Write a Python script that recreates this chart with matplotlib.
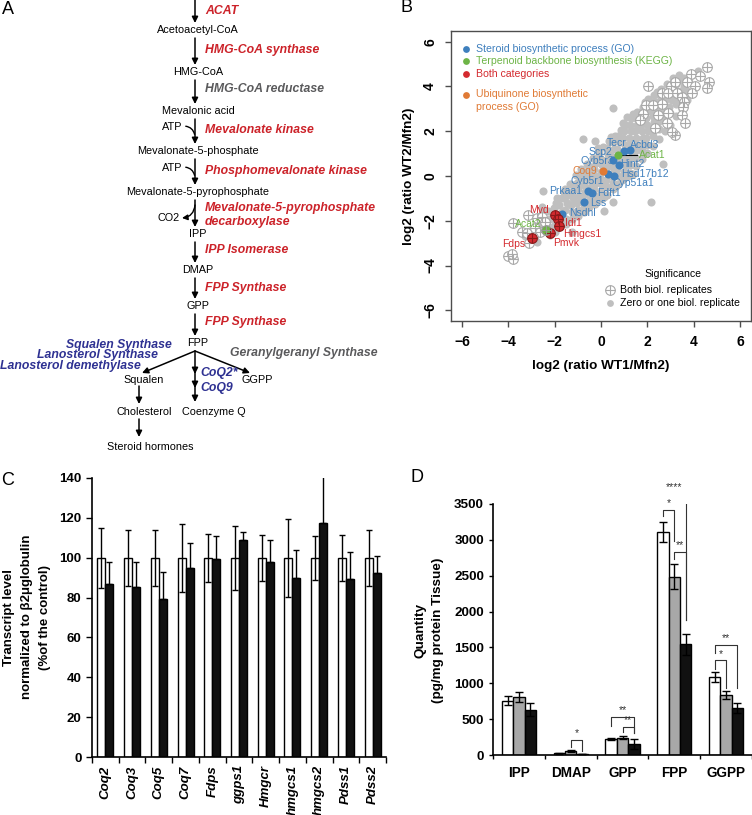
import numpy as np
import matplotlib
matplotlib.use('Agg')
import matplotlib.pyplot as plt
from matplotlib.patches import FancyArrowPatch

plt.rcParams['font.family'] = ['Liberation Sans', 'DejaVu Sans']

W, H = 752, 815

RED = '#cc2229'
GREY_ENZ = '#5a5a5c'
NAVY = '#2e3192'

# ---------------- panel A: mevalonate pathway ----------------
metabolites = ['Acetoacetyl-CoA', 'HMG-CoA', 'Mevalonic acid', 'Mevalonate-5-phosphate',
               'Mevalonate-5-pyrophosphate', 'IPP', 'DMAP', 'GPP', 'FPP']
enzymes = ['ACAT', 'HMG-CoA synthase', 'HMG-CoA reductase', 'Mevalonate kinase',
           'Phosphomevalonate kinase', 'Mevalonate-5-pyrophosphate\ndecarboxylase',
           'IPP Isomerase', 'FPP Synthase', 'FPP Synthase']
enzyme_colors = [RED, RED, GREY_ENZ, RED, RED, RED, RED, RED, RED]
cofactors = ['', '', '', 'ATP', 'ATP', 'CO2', '', '', '']
sterol_enzymes = ['Squalen Synthase', 'Lanosterol Synthase', 'Lanosterol demethylase']
gg_enzyme = 'Geranylgeranyl Synthase'
coq_enzymes = ['CoQ2*', 'CoQ9']

# ---------------- panel B: proteomics scatter ----------------
cloud_low = [(-3.3, -2.7), (-3.0, -2.9), (-3.05, -2.45), (-2.8, -2.6), (-2.7, -2.2), (-2.75, -2.95),
             (-2.5, -2.4), (-2.45, -2.0), (-2.55, -1.7), (-2.25, -2.3), (-2.2, -1.9), (-2.3, -1.55),
             (-2.2, -2.65), (-2.0, -2.2), (-1.95, -1.8), (-2.05, -1.45), (-1.95, -1.2), (-1.75, -2.0),
             (-1.7, -1.6), (-1.8, -1.3), (-1.7, -1.0), (-1.5, -1.9), (-1.55, -1.5), (-1.45, -1.2),
             (-1.5, -0.9), (-1.55, -0.6), (-1.25, -2.5), (-2.5, -0.67), (-2.54, -1.38)]
cloud_mid = [(-1.25, -1.6), (-1.3, -1.3), (-1.2, -1.0), (-1.25, -0.7), (-1.2, -0.4), (-1.0, -1.5),
             (-1.05, -1.2), (-0.95, -0.9), (-1.0, -0.6), (-1.05, -0.3), (-0.95, 0.0), (-0.75, -1.3),
             (-0.8, -1.0), (-0.7, -0.7), (-0.75, -0.4), (-0.8, -0.1), (-0.7, 0.2), (-0.5, -1.1),
             (-0.55, -0.8), (-0.45, -0.5), (-0.5, -0.2), (-0.55, 0.1), (-0.45, 0.4), (-0.25, -0.9),
             (-0.3, -0.6), (-0.2, -0.3), (-0.25, 0.0), (-0.3, 0.3), (-0.2, 0.6), (0.0, -0.7),
             (0.05, -0.4), (-0.05, -0.1), (0.0, 0.2), (0.05, 0.5), (-0.05, 0.8), (0.25, -0.5),
             (0.2, -0.2), (0.3, 0.1), (0.25, 0.4), (0.2, 0.7), (0.3, 1.0), (0.25, 1.25), (0.5, -0.3),
             (0.45, 0.0), (0.55, 0.3), (0.5, 0.6), (0.45, 0.9), (0.55, 1.2), (0.5, 1.5), (0.75, 0.0),
             (0.7, 0.3), (0.8, 0.6), (0.75, 0.9), (0.7, 1.2), (0.8, 1.5), (0.75, 1.8), (-0.78, 1.64),
             (-0.26, 1.56), (0.52, -1.16), (0.13, -1.56), (0.9, -0.2)]
cloud_high = [(1.0, 0.2), (1.05, 0.5), (0.95, 0.8), (1.0, 1.1), (1.05, 1.4), (0.95, 1.7), (1.0, 2.0),
              (1.25, 0.5), (1.2, 0.8), (1.3, 1.1), (1.25, 1.4), (1.2, 1.7), (1.3, 2.0), (1.25, 2.3),
              (1.5, 0.8), (1.45, 1.1), (1.55, 1.4), (1.5, 1.7), (1.45, 2.0), (1.55, 2.3), (1.5, 2.6),
              (1.75, 1.1), (1.7, 1.4), (1.8, 1.7), (1.75, 2.0), (1.7, 2.3), (1.8, 2.6), (1.75, 2.9),
              (2.0, 1.4), (1.95, 1.7), (2.05, 2.0), (2.0, 2.3), (1.95, 2.6), (2.05, 2.9), (2.0, 3.2),
              (2.25, 1.8), (2.2, 2.1), (2.3, 2.4), (2.25, 2.7), (2.2, 3.0), (2.3, 3.3), (2.5, 2.1),
              (2.45, 2.4), (2.55, 2.7), (2.5, 3.0), (2.45, 3.3), (2.55, 3.6), (2.75, 2.5), (2.7, 2.8),
              (2.8, 3.1), (2.75, 3.4), (2.7, 3.7), (3.0, 2.8), (2.95, 3.1), (3.05, 3.4), (3.0, 3.7),
              (2.95, 4.0), (3.25, 3.2), (3.2, 3.5), (3.3, 3.8), (3.25, 4.1), (3.5, 3.5), (3.45, 3.8),
              (0.52, 3.02), (1.12, 2.62), (2.67, 0.53), (2.16, -1.16), (1.4, 0.1), (3.4, 4.3), (3.6, 4.0)]
cloud_edge = [(-2.0, -2.5), (-1.9, -1.0), (-1.75, -2.3), (-1.6, -0.7), (-1.5, -2.15), (-1.35, -0.35),
              (-1.25, -1.9), (-1.1, 0.05), (-1.0, -1.8), (-0.85, 0.3), (-0.75, -1.6), (-0.6, 0.55),
              (-0.5, -1.4), (-0.35, 0.8), (-0.25, -1.25), (-0.1, 1.05), (0.0, -1.05), (0.1, 1.3),
              (0.25, -0.85), (0.35, 1.55), (0.5, -0.6), (0.6, 1.8), (0.75, -0.35), (0.85, 2.05),
              (1.0, -0.1), (1.05, 2.3), (1.25, 0.15), (1.3, 2.6), (1.5, 0.45), (1.55, 2.85),
              (1.75, 0.75), (1.8, 3.1), (2.0, 1.05), (2.05, 3.45), (2.25, 1.35), (2.3, 3.6),
              (2.5, 1.65), (2.6, 3.9), (2.75, 2.0), (2.85, 4.1), (3.0, 2.3), (3.1, 4.4), (3.25, 2.7),
              (3.35, 4.5), (3.5, 3.0), (3.6, 4.4), (3.7, 3.4), (3.8, 4.2), (3.95, 4.5), (4.2, 4.7),
              (3.7, 3.8), (-0.35, -1.1), (0.15, -0.95), (0.65, -0.45), (1.15, 0.0), (-0.9, -1.55),
              (-0.15, 1.25), (0.45, 1.75), (0.95, 2.35), (1.4, 2.75), (1.9, 3.3), (2.4, 3.75)]
crossed_high = [(4.6, 4.86), (3.88, 4.58), (4.27, 4.45), (3.7, 4.18), (4.05, 4.04), (3.92, 3.73),
                (4.65, 4.22), (4.6, 3.94), (2.03, 4.04), (2.63, 3.69), (3.02, 4.04), (3.19, 4.22),
                (2.9, 3.7), (3.3, 3.7), (3.49, 3.51), (3.58, 3.29), (3.53, 3.07), (3.49, 2.71),
                (3.62, 2.36), (3.19, 1.82), (1.94, 3.16), (2.24, 3.16), (2.63, 3.24), (2.89, 2.8),
                (2.46, 2.71), (1.81, 2.76), (2.84, 2.36), (2.33, 2.13), (3.06, 1.96), (1.68, 2.49)]
crossed_low = [(-3.15, -1.73), (-3.79, -2.09), (-3.41, -2.49), (-3.19, -2.53), (-3.1, -2.98),
               (-4.0, -3.56), (-3.79, -3.73), (-3.85, -3.5), (-2.76, -1.87), (-2.54, -1.82),
               (-2.84, -2.31), (-2.63, -2.49), (-2.93, -2.71), (-2.41, -2.04)]

# highlighted proteins: x, y, category, both replicates
hl_x = [0.99, 1.25, 0.52, 0.78, 0.30, 0.56, -0.56, -0.39, -0.73, -1.68,
        0.73, 0.09, -1.98, -1.85, -1.81, -2.20, -2.97, -2.37]
hl_y = [1.11, 1.16, 0.71, 0.49, 0.09, 0.00, -0.67, -0.76, -1.16, -1.69,
        0.93, 0.22, -1.76, -1.91, -2.22, -2.53, -2.76, -2.40]
hl_cat = ['steroid'] * 10 + ['terpenoid', 'ubiquinone'] + ['both'] * 5 + ['terpenoid']
hl_cross = [False] * 12 + [True] * 6

gene_names = ['Tecr', 'Acbd3', 'Scp2', 'Acat1', 'Cyb5r3', 'Hint2', 'Coq9', 'Hsd17b12', 'Cyb5r1',
              'Cyp51a1', 'Prkaa1', 'Fdft1', 'Lss', 'Nsdhl', 'Mvd', 'Idi1', 'Hmgcs1', 'Pmvk',
              'Fdps', 'Acat2']
gene_lx = [0.66, 1.88, -0.04, 2.2, -0.17, 1.34, -0.69, 1.9, -0.6, 1.42, -1.51, 0.34, -0.13,
           -0.82, -2.67, -1.21, -0.82, -1.51, -3.79, -3.15]
gene_ly = [1.47, 1.38, 1.07, 0.93, 0.67, 0.53, 0.22, 0.09, -0.22, -0.31, -0.67, -0.76, -1.2,
           -1.64, -1.51, -2.09, -2.58, -2.98, -3.02, -2.13]
gene_cat = ['steroid'] * 3 + ['terpenoid'] + ['steroid'] * 2 + ['ubiquinone'] + ['steroid'] * 7 \
    + ['both'] * 5 + ['terpenoid']

cat_colors = {'steroid': '#3e7fbd', 'terpenoid': '#6db446', 'both': '#d42a2f', 'ubiquinone': '#e07a35'}
legend_labels = ['Steroid biosynthetic process (GO)', 'Terpenoid backbone biosynthesis (KEGG)',
                 'Both categories', 'Ubiquinone biosynthetic\nprocess (GO)']

# ---------------- panel C: transcripts ----------------
c_genes = ['Coq2', 'Coq3', 'Coq5', 'Coq7', 'Fdps', 'ggps1', 'Hmgcr', 'hmgcs1', 'hmgcs2', 'Pdss1', 'Pdss2']
c_ctrl = [100, 100, 100, 100, 100, 100, 100, 100, 100, 100, 100]
c_ctrl_err = [15, 14, 14, 17, 12, 16, 11.5, 19.5, 11, 11.5, 14]
c_mut = [87, 85.5, 79.5, 95, 99.5, 109, 98, 90, 117.5, 89.5, 92.5]
c_mut_err = [11, 12.5, 13.5, 12.5, 11.5, 4, 11, 14, 23.5, 13.5, 8.5]

# ---------------- panel D: isoprenoids ----------------
d_metab = ['IPP', 'DMAP', 'GPP', 'FPP', 'GGPP']
d_wt1 = [757, 23, 220, 3108, 1089]
d_wt1_err = [60, 8, 12, 140, 75]
d_wt2 = [808, 61, 243, 2486, 832]
d_wt2_err = [65, 15, 15, 175, 56]
d_mut = [631, 14, 154, 1542, 650]
d_mut_err = [93, 5, 66, 145, 70]
# group, bar a, bar b, bracket top, left foot, right foot, label
d_sig = [(1, 1, 2, 210, 110, 60, '*'),
         (2, 0, 2, 530, 405, 300, '**'),
         (2, 1, 2, 397, 327, 300, '**'),
         (3, 0, 2, 3643, 3550, 1880, '****'),
         (3, 0, 1, 3422, 3339, 2984, '*'),
         (3, 1, 2, 2836, 2730, 1880, '**'),
         (4, 0, 2, 1534, 1425, 935, '**'),
         (4, 0, 1, 1318, 1200, 935, '*')]


fig = plt.figure(figsize=(W / 100, H / 100), dpi=100)


def px_axes(l, t, r, b):
    return fig.add_axes([l / W, 1 - b / H, (r - l) / W, (b - t) / H])


def ftext(x, y, s, **kw):
    fig.text(x / W, 1 - y / H, s, **kw)


def arrow(ax, x0, y0, x1, y1, **kw):
    style = dict(arrowstyle='-|>', color='black', lw=1.1, mutation_scale=9, shrinkA=0, shrinkB=0)
    style.update(kw)
    ax.annotate('', xy=(x1, y1), xytext=(x0, y0), arrowprops=style)


# ---- A ----
axA = px_axes(0, 0, 380, 460)
axA.set_xlim(0, 380)
axA.set_ylim(460, 0)
axA.axis('off')

met_y = [30, 72, 111, 151, 192, 234, 270, 306, 343]
enz_y = [11, 50, 89, 130, 171, 215, 250, 288, 322]
xm = 195
for i, name in enumerate(metabolites):
    axA.text(198, met_y[i], name, ha='center', va='center', fontsize=7.8)
    y0 = met_y[i - 1] + 8 if i > 0 else 0
    arrow(axA, xm, y0, xm, met_y[i] - 7)
    axA.text(205, enz_y[i], enzymes[i], ha='left', va='center', fontsize=8.8, color=enzyme_colors[i],
             fontweight='bold', fontstyle='italic', linespacing=1.25)
    if cofactors[i] == 'ATP':
        yc = enz_y[i] - 3
        axA.text(182, yc, 'ATP', ha='right', va='center', fontsize=7.8)
        axA.add_patch(FancyArrowPatch((183, yc - 1), (xm, yc + 10), connectionstyle='arc3,rad=-0.45',
                                      arrowstyle='-', lw=1, color='black'))
    elif cofactors[i] == 'CO2':
        yc = enz_y[i] + 3
        axA.text(180, yc, 'CO2', ha='right', va='center', fontsize=7.8)
        axA.add_patch(FancyArrowPatch((xm, yc - 13), (182, yc), connectionstyle='arc3,rad=-0.4',
                                      arrowstyle='-|>', mutation_scale=8, lw=1, color='black',
                                      shrinkA=0, shrinkB=0))

# branches below FPP
arrow(axA, xm, 351, 142, 373)
arrow(axA, xm, 351, 250, 373)
for y0, y1 in [(351, 374), (372, 388), (386, 402)]:
    arrow(axA, xm, y0, xm, y1)
axA.text(144, 380, 'Squalen', ha='center', va='center', fontsize=7.8)
axA.text(257, 380, 'GGPP', ha='center', va='center', fontsize=7.8)
axA.text(144, 412, 'Cholesterol', ha='center', va='center', fontsize=7.8)
axA.text(214, 412, 'Coenzyme Q', ha='center', va='center', fontsize=7.8)
axA.text(150, 447, 'Steroid hormones', ha='center', va='center', fontsize=7.8)
arrow(axA, 139, 386, 139, 404)
arrow(axA, 139, 419, 139, 437)
for k, name in enumerate(sterol_enzymes):
    axA.text([172, 158, 141][k], 345 + 10.5 * k, name, ha='right', va='center', fontsize=8.8,
             color=NAVY, fontweight='bold', fontstyle='italic')
axA.text(230, 353, gg_enzyme, ha='left', va='center', fontsize=8.8, color=GREY_ENZ,
         fontweight='bold', fontstyle='italic')
for k, name in enumerate(coq_enzymes):
    axA.text(200, 373 + 15 * k, name, ha='left', va='center', fontsize=8.8, color=NAVY,
             fontweight='bold', fontstyle='italic')

# ---- B ----
axB = px_axes(451, 31, 751, 321)
grey_pts = np.array(cloud_low + cloud_mid + cloud_high + cloud_edge)
cross_pts = np.array(crossed_high + crossed_low)
DOT = 34
RING = 48
axB.scatter(grey_pts[:, 0], grey_pts[:, 1], s=DOT, c='#bfbfbf', lw=0, zorder=2)
axB.scatter(cross_pts[:, 0], cross_pts[:, 1], s=RING, facecolors='white', edgecolors='#a9a9a9', lw=0.8, zorder=3)
axB.scatter(cross_pts[:, 0], cross_pts[:, 1], s=RING, marker='+', c='#a9a9a9', lw=0.8, zorder=4)

axB.plot([hl_x[10], 1.55], [hl_y[10], hl_y[10]], color='black', lw=0.8, zorder=5)
for x, y, cat, cr in zip(hl_x, hl_y, hl_cat, hl_cross):
    col = cat_colors[cat]
    if cr:
        edge = '#8b1a1a' if cat == 'both' else '#999999'
        axB.scatter(x, y, s=RING, color=col, edgecolors=edge, lw=0.8, zorder=6)
        axB.scatter(x, y, s=RING, marker='+', c=edge, lw=0.8, zorder=7)
    else:
        axB.scatter(x, y, s=DOT, color=col, lw=0, zorder=6)
for name, x, y, cat in zip(gene_names, gene_lx, gene_ly, gene_cat):
    axB.text(x, y, name, ha='center', va='center', fontsize=7.5, color=cat_colors[cat], zorder=8)

axB.set_xlim(-6.48, 6.48)
axB.set_ylim(-6.48, 6.48)
axB.set_xticks(range(-6, 7, 2))
axB.set_yticks(range(-6, 7, 2))
for sp in axB.spines.values():
    sp.set_color('#4d4d4d')
    sp.set_linewidth(1)
axB.tick_params(direction='out', length=4, width=1, color='#4d4d4d', labelsize=10, pad=6)
for lab in axB.get_xticklabels() + axB.get_yticklabels():
    lab.set_fontweight('bold')
for lab in axB.get_yticklabels():
    lab.set_rotation(90)
    lab.set_va('center')

leg_y = [0.938, 0.897, 0.852, 0.801]
for yy, cat, lab in zip(leg_y, ['steroid', 'terpenoid', 'both', 'ubiquinone'], legend_labels):
    axB.scatter(0.05, yy if '\n' not in lab else 0.779, s=24, color=cat_colors[cat], lw=0,
                transform=axB.transAxes, zorder=9)
    axB.text(0.083, yy, lab, transform=axB.transAxes, fontsize=7.6, color=cat_colors[cat],
             va='top' if '\n' in lab else 'center', linespacing=1.45)
axB.text(0.74, 0.162, 'Significance', transform=axB.transAxes, ha='center', va='center', fontsize=7.6)
axB.scatter(0.53, 0.107, s=RING, facecolors='white', edgecolors='#a9a9a9', lw=0.8, transform=axB.transAxes)
axB.scatter(0.53, 0.107, s=RING, marker='+', c='#a9a9a9', lw=0.8, transform=axB.transAxes)
axB.scatter(0.53, 0.062, s=24, c='#bfbfbf', lw=0, transform=axB.transAxes)
axB.text(0.563, 0.107, 'Both biol. replicates', transform=axB.transAxes, va='center', fontsize=7.6)
axB.text(0.563, 0.062, 'Zero or one biol. replicate', transform=axB.transAxes, va='center', fontsize=7.6)
ftext(601, 366, 'log2 (ratio WT1/Mfn2)', ha='center', va='center', fontsize=9.7, fontweight='bold')
ftext(409, 176, 'log2 (ratio WT2/Mfn2)', ha='center', va='center', fontsize=9.7, fontweight='bold', rotation=90)

# ---- C ----
axC = px_axes(92, 478, 386, 757)
xc = np.arange(len(c_genes))
ekw = dict(elinewidth=1, capthick=1, ecolor='black')
axC.bar(xc - 0.15, c_ctrl, 0.3, yerr=c_ctrl_err, color='white', edgecolor='black', lw=1,
        capsize=2.5, error_kw=ekw, zorder=2)
axC.bar(xc + 0.15, c_mut, 0.3, yerr=[np.zeros(len(c_mut)), c_mut_err], color='#111111',
        edgecolor='black', lw=1, capsize=2.5, error_kw=ekw, zorder=2)
axC.set_xlim(-0.5, len(c_genes) - 0.5)
axC.set_ylim(0, 140)
axC.set_yticks(range(0, 141, 20))
axC.set_xticks(xc)
axC.set_xticklabels(c_genes, rotation=90, fontstyle='italic', fontweight='bold', fontsize=9.5)
axC.set_xticks(np.arange(-0.5, len(c_genes), 1), minor=True)
axC.tick_params(axis='x', which='major', length=0, pad=6)
axC.tick_params(axis='x', which='minor', length=4, width=1, direction='out')
axC.tick_params(axis='y', length=4, width=1, direction='out', labelsize=9.5)
for lab in axC.get_yticklabels():
    lab.set_fontweight('bold')
for s in ['top', 'right']:
    axC.spines[s].set_visible(False)
for s in ['left', 'bottom']:
    axC.spines[s].set_linewidth(1.2)
ftext(27, 617, 'Transcript level\nnormalized to β2μglobulin\n(%of the control)', ha='center',
      va='center', fontsize=9.5, fontweight='bold', rotation=90, linespacing=1.7)

# ---- D ----
axD = px_axes(493, 504, 752, 755)
xd = np.arange(len(d_metab))
offs = [-0.22, 0.0, 0.22]
series = [(d_wt1, d_wt1_err, 'white'), (d_wt2, d_wt2_err, '#a8a8a8'), (d_mut, d_mut_err, '#111111')]
for off, (vals, errs, col) in zip(offs, series):
    axD.bar(xd + off, vals, 0.22, yerr=errs, color=col, edgecolor='black', lw=1, capsize=3,
            error_kw=ekw, zorder=2)
for g, a, b, top, ya, yb, lab in d_sig:
    x0, x1 = g + offs[a], g + offs[b]
    axD.plot([x0, x0, x1, x1], [ya, top, top, yb], color='#333333', lw=0.8)
    axD.text((x0 + x1) / 2, top + 25, lab, ha='center', va='bottom', fontsize=7.5, color='#333333')
axD.set_xlim(-0.5, len(d_metab) - 0.5)
axD.set_ylim(0, 3500)
axD.set_yticks(range(0, 3501, 500))
axD.set_xticks(xd)
axD.set_xticklabels(d_metab, fontweight='bold', fontsize=9.8)
axD.set_xticks(np.arange(-0.5, len(d_metab), 1), minor=True)
axD.tick_params(axis='x', which='major', length=0, pad=8)
axD.tick_params(axis='x', which='minor', length=3, width=1, direction='out')
axD.tick_params(axis='y', length=3, width=1, direction='out', labelsize=9.7)
for lab in axD.get_yticklabels():
    lab.set_fontweight('bold')
for s in ['top', 'right']:
    axD.spines[s].set_visible(False)
for s in ['left', 'bottom']:
    axD.spines[s].set_linewidth(1.2)
ftext(429, 630, 'Quantity\n(pg/mg protein Tissue)', ha='center', va='center', fontsize=9.7,
      fontweight='bold', rotation=90, linespacing=1.65)

# panel letters
for letter, x, y in [('A', 8, 10), ('B', 406, 8), ('C', 8, 480), ('D', 417, 478)]:
    ftext(x, y, letter, ha='center', va='center', fontsize=13)

fig.savefig('out.png', dpi=100)
